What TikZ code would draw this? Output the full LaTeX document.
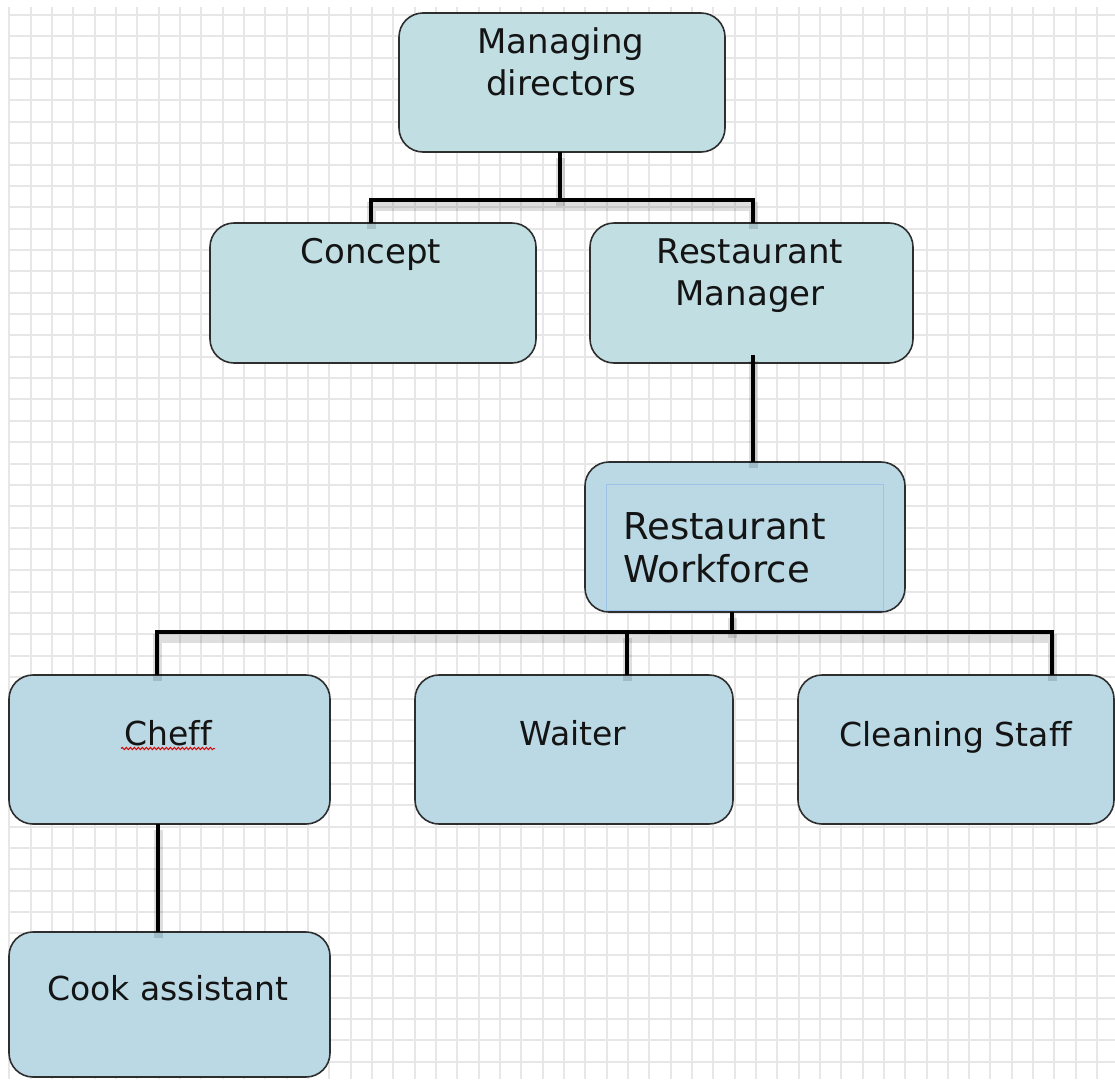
\documentclass[tikz,border=0pt]{standalone}
\usepackage{fontspec}
\setmainfont[Ligatures=NoCommon]{DejaVu Sans}
\usetikzlibrary{decorations.pathmorphing}

\definecolor{gridline}{HTML}{E7E7E7}
\definecolor{topfill}{HTML}{C1DEE3}
\definecolor{lowfill}{HTML}{BAD9E4}
\definecolor{boxline}{HTML}{2E2E2E}
\definecolor{selline}{HTML}{9CC2E8}

\tikzset{
  orgbox/.style={draw=boxline, line width=1.6pt, rounded corners=24pt,
    anchor=north west, inner sep=0pt, outer sep=0pt},
  lbl/.style={inner sep=0pt, anchor=base, text=black!92},
  conn/.style={line width=3.4pt, black, line join=miter,
    preaction={draw, line width=9pt, black, opacity=0.13,
      transform canvas={yshift=-6pt}}},
}

\begin{document}
\begin{tikzpicture}[x=1pt, y=-1pt]
  % page and background grid
  \useasboundingbox (0,0) rectangle (1115,1079);
  \fill[white] (0,0) rectangle (1115,1079);
  \foreach \i in {0,...,51}
    \draw[gridline, line width=2pt] (9.3+\i*21.33,7) -- (9.3+\i*21.33,1079);
  \foreach \j in {0,...,50}
    \draw[gridline, line width=2pt] (8,15+\j*21.36) -- (1115,15+\j*21.36);

  % boxes
  \node[orgbox, fill=topfill, minimum width=326pt, minimum height=139pt] (md) at (399,13) {};
  \node[orgbox, fill=topfill, minimum width=326pt, minimum height=140pt] (concept) at (210,223) {};
  \node[orgbox, fill=topfill, minimum width=323pt, minimum height=140pt] (rm) at (590,223) {};
  \node[orgbox, fill=lowfill, minimum width=320pt, minimum height=150pt] (rw) at (585,462) {};
  \node[draw=selline, line width=0.8pt, anchor=north west, inner sep=0pt,
        minimum width=277pt, minimum height=126pt] (rwsel) at (606,484) {};
  \node[orgbox, fill=lowfill, minimum width=321pt, minimum height=149pt] (cheff) at (9,675) {};
  \node[orgbox, fill=lowfill, minimum width=318pt, minimum height=149pt] (waiter) at (415,675) {};
  \node[orgbox, fill=lowfill, minimum width=316pt, minimum height=149pt] (clean) at (798,675) {};
  \node[orgbox, fill=lowfill, minimum width=321pt, minimum height=145pt] (cook) at (9,932) {};

  % texts
  \begin{scope}[every node/.append style={font=\fontsize{34}{42}\selectfont}]
    \node[lbl] (mdt1) at (561,53) {Managing};
    \node[lbl] (mdt2) at (561,95) {directors};
    \node[lbl] (conceptt) at (371,263) {Concept};
    \node[lbl] (rmt1) at (750,263) {Restaurant};
    \node[lbl] (rmt2) at (750,305) {Manager};
  \end{scope}
  \begin{scope}[every node/.append style={font=\fontsize{37}{43}\selectfont}]
    \node[lbl, anchor=base west] (rwt1) at (623,539) {Restaurant};
    \node[lbl, anchor=base west] (rwt2) at (623,582) {Workforce};
  \end{scope}
  \begin{scope}[every node/.append style={font=\fontsize{33}{42}\selectfont}]
    \node[lbl] (cheft) at (168,745) {Cheff};
    \node[lbl] (waitert) at (573,745) {Waiter};
    \node[lbl] (cleant) at (956,746) {Cleaning Staff};
    \node[lbl] (cookt) at (168,1000) {Cook assistant};
  \end{scope}
  % spell-check squiggle under the misspelt word
  \draw[red!85!black, line width=1pt, decorate,
        decoration={snake, amplitude=1.1pt, segment length=4pt}]
    ([xshift=-3pt,yshift=-3.5pt]cheft.base west) -- ([xshift=3pt,yshift=-3.5pt]cheft.base east);

  % connectors
  \coordinate (busA) at (560,200);
  \coordinate (busAl) at (371,200);
  \coordinate (busAr) at (753,200);
  \draw[conn] (md.south -| busA) -- (busA);
  \draw[conn] (concept.north -| busAl) -- (busAl) -- (busAr) -- (rm.north -| busAr);

  \coordinate (rmdrop) at (753,355);
  \draw[conn] (rmdrop) -- (rw.north -| rmdrop);

  \coordinate (busB) at (732,632);
  \coordinate (busBl) at (157,632);
  \coordinate (busBm) at (627,632);
  \coordinate (busBr) at (1052,632);
  \draw[conn] (rw.south -| busB) -- (busB);
  \draw[conn] (cheff.north -| busBl) -- (busBl) -- (busBr) -- (clean.north -| busBr);
  \draw[conn] (busBm) -- (waiter.north -| busBm);

  \coordinate (cookx) at (158,800);
  \draw[conn] (cheff.south -| cookx) -- (cook.north -| cookx);
\end{tikzpicture}
\end{document}
